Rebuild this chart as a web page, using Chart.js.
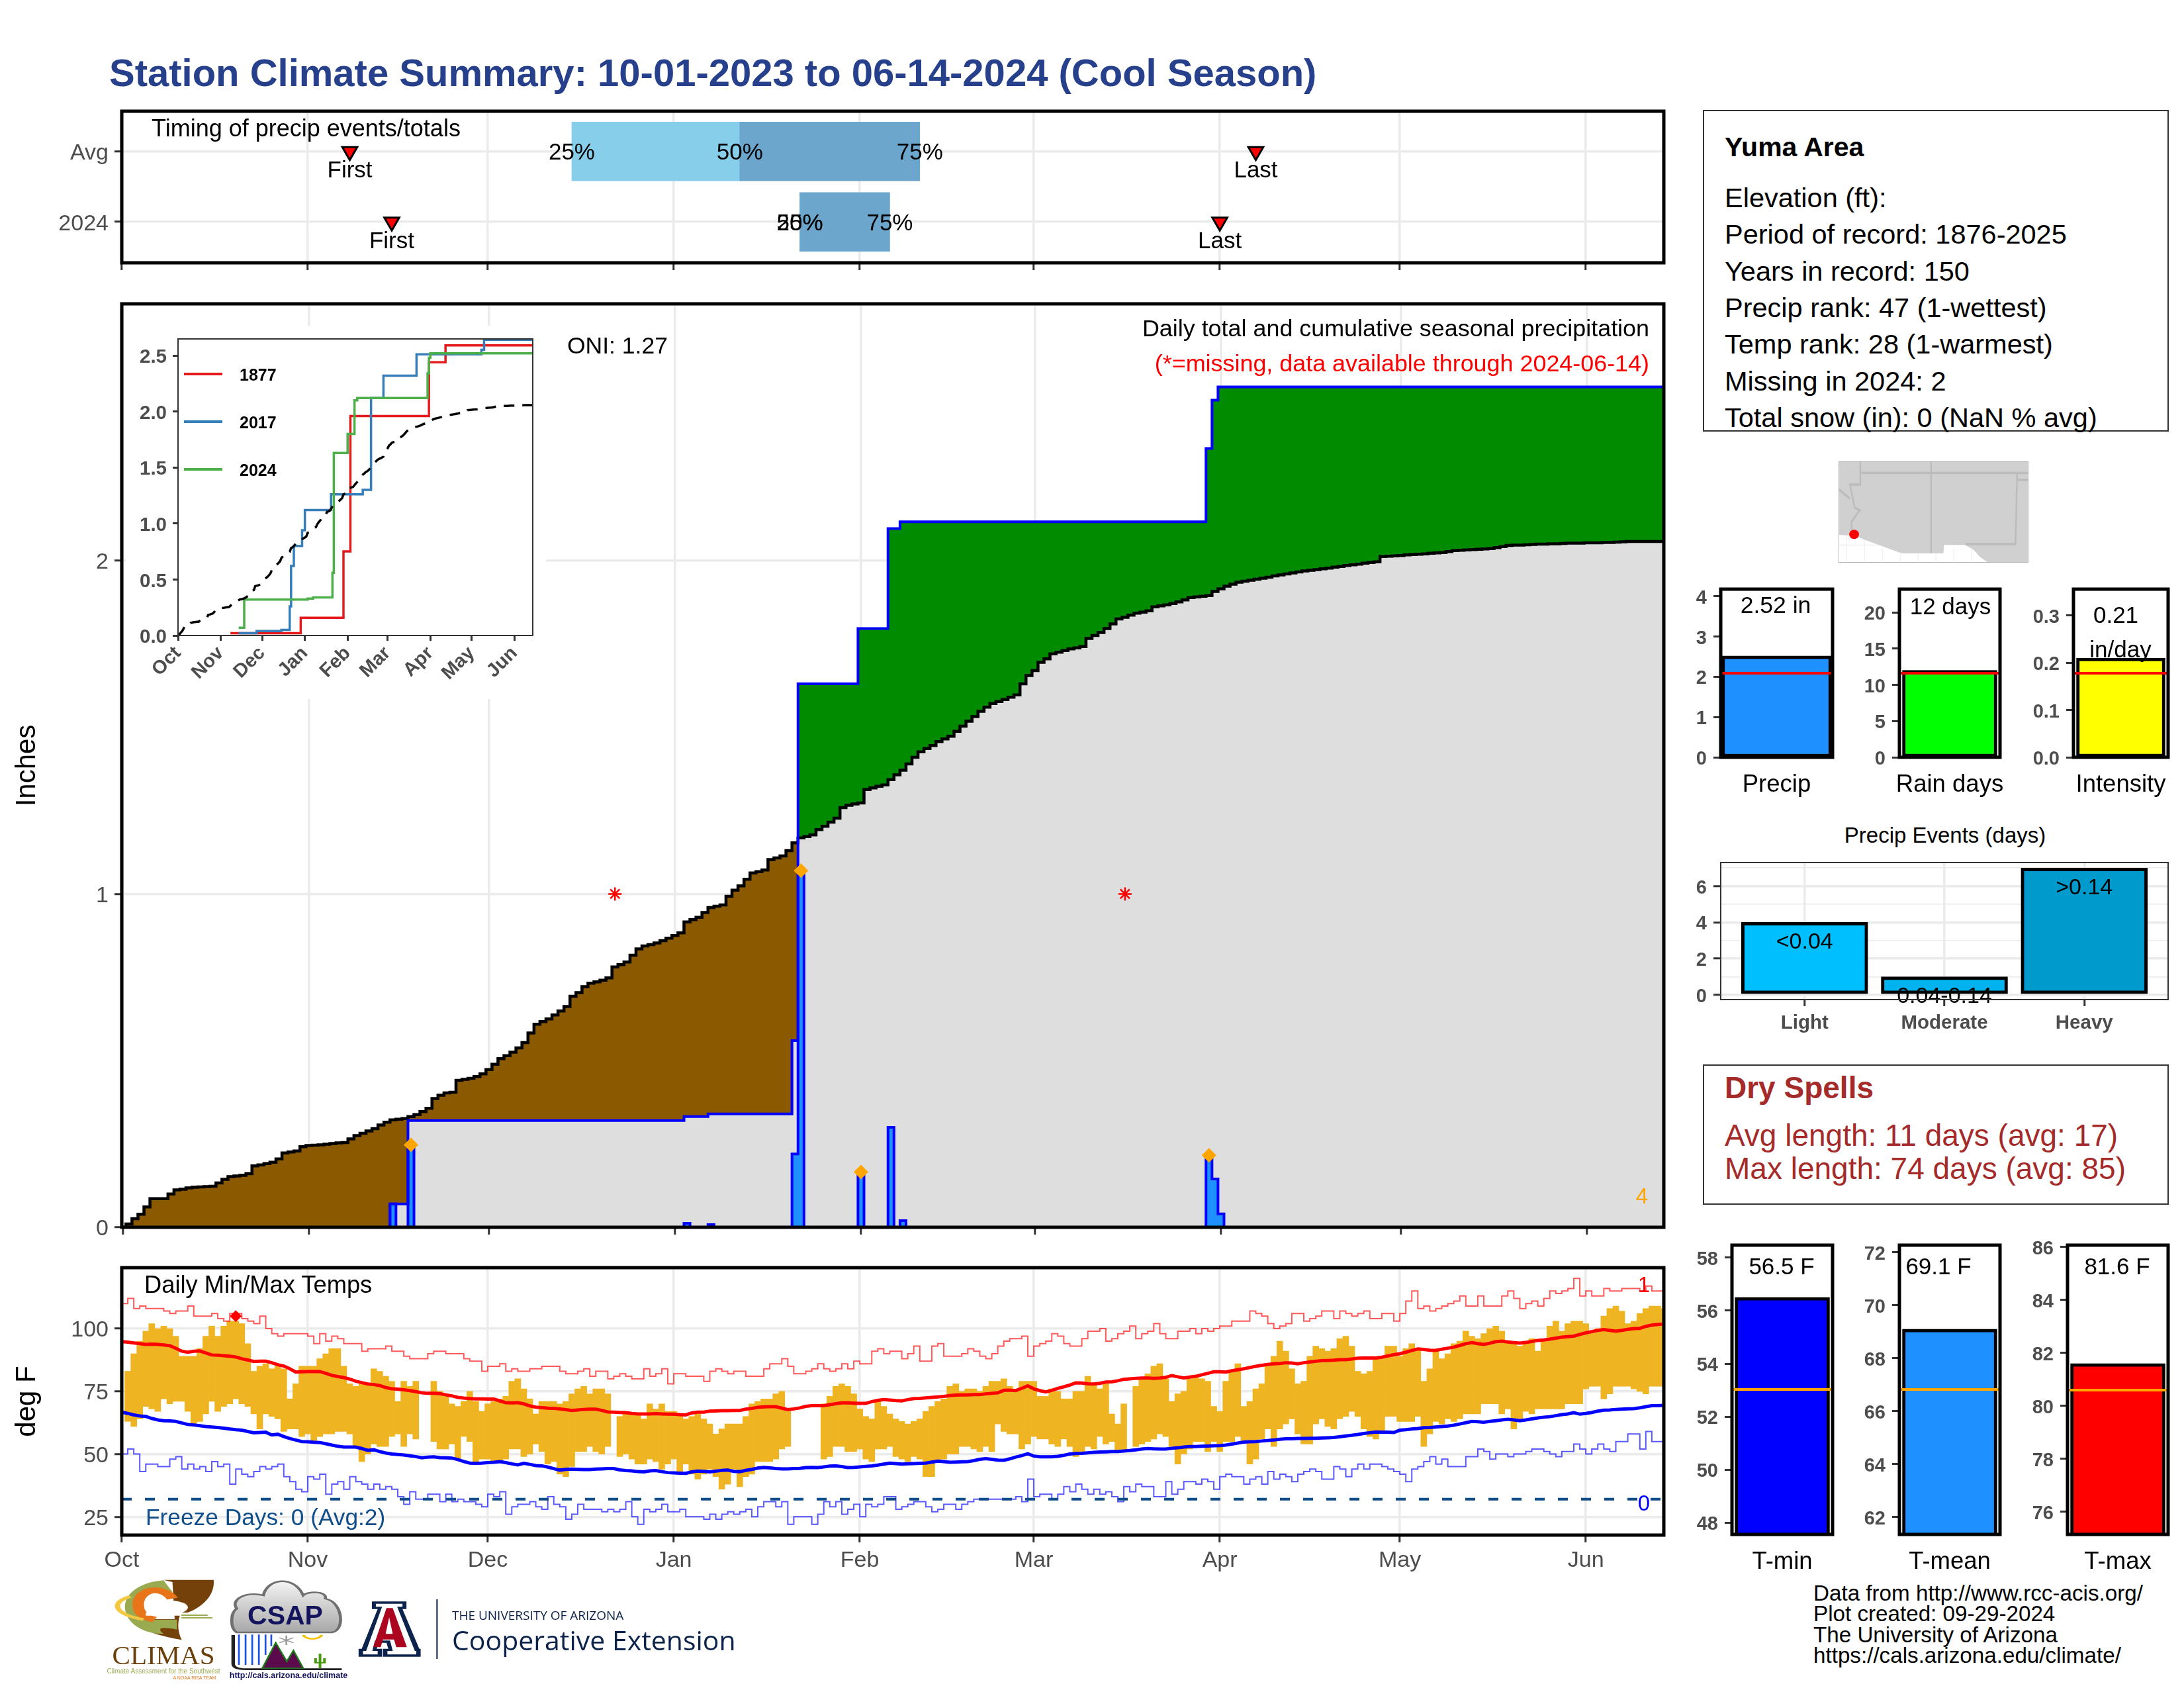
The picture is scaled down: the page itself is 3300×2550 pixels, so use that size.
<!DOCTYPE html>
<html>
<head>
<meta charset="utf-8">
<title>Station Climate Summary</title>
<script src="https://cdn.jsdelivr.net/npm/chart.js@4"></script>
<style>
  body { margin: 0; width: 3300px; height: 2550px; background: #fff; position: relative; overflow: hidden; font-family: "Liberation Sans", sans-serif; }
  canvas { position: absolute; }
  .t { position: absolute; white-space: nowrap; line-height: 1; }
  .box { position: absolute; box-sizing: border-box; border: 2px solid #333; }
  svg { position: absolute; }
</style>
</head>
<body>
<script>
// Month ticks, days since Oct 1
var monthDays = [0, 31, 61, 92, 123, 152, 183, 213, 244];
var monthNames = ['Oct', 'Nov', 'Dec', 'Jan', 'Feb', 'Mar', 'Apr', 'May', 'Jun'];

// Timing strip
var timingRows = [2, 1];
var timingNames = ['Avg', '2024'];
var pct25 = [75, 113];
var pct50 = [103, 113];
var pct75 = [133, 128];
var firstEvent = [38, 45];
var lastEvent = [189, 183];

// Average cumulative precip, day 0 to 257
var avgCum = [0,.01,.026,.039,.061,.086,.086,.086,.1,.112,.114,.118,.12,.121,.122,.123,.133,.144,.152,.154,.156,.161,.184,.187,.191,.195,.205,.223,.226,.229,.242,.245,.246,.247,.249,.251,.253,.254,.265,.275,.282,.289,.296,.307,.315,.322,.324,.326,.332,.338,.347,.357,.386,.396,.403,.405,.441,.444,.447,.452,.46,.473,.489,.506,.515,.525,.538,.554,.583,.609,.617,.625,.637,.649,.662,.693,.704,.722,.732,.736,.741,.748,.781,.788,.796,.816,.835,.844,.848,.853,.86,.867,.875,.883,.916,.923,.93,.944,.959,.963,.967,.993,1.011,1.024,1.044,1.063,1.067,1.072,1.103,1.108,1.114,1.13,1.153,1.168,1.172,1.177,1.193,1.203,1.215,1.227,1.259,1.266,1.27,1.273,1.313,1.318,1.323,1.327,1.343,1.357,1.371,1.39,1.41,1.426,1.436,1.445,1.457,1.465,1.473,1.488,1.503,1.518,1.532,1.548,1.56,1.571,1.577,1.583,1.59,1.597,1.63,1.655,1.67,1.695,1.705,1.72,1.725,1.73,1.735,1.738,1.742,1.766,1.775,1.784,1.796,1.81,1.825,1.83,1.836,1.842,1.845,1.849,1.861,1.864,1.867,1.871,1.876,1.882,1.889,1.891,1.893,1.895,1.907,1.915,1.923,1.929,1.935,1.938,1.941,1.944,1.947,1.95,1.954,1.957,1.96,1.963,1.966,1.969,1.971,1.973,1.975,1.977,1.98,1.982,1.985,1.987,1.989,1.992,1.994,1.996,2.012,2.013,2.014,2.015,2.017,2.018,2.019,2.02,2.022,2.023,2.024,2.027,2.03,2.031,2.032,2.033,2.034,2.035,2.036,2.039,2.042,2.045,2.046,2.046,2.047,2.048,2.049,2.049,2.05,2.05,2.051,2.052,2.052,2.052,2.053,2.053,2.053,2.054,2.054,2.055,2.056,2.057,2.057,2.057,2.057,2.057,2.057,2.057];

// Rain events in 2023-24
var rainDays = [45, 48, 94, 98, 112, 113, 123, 128, 130, 181, 182, 183];
var rainInches = [.07, .25, .012, .008, .22, 1.07, .166, .30, .02, .22, .145, .04];
var flagDays = [48, 113, 123, 181];
var flagInches = [.247, 1.07, .166, .216];
var missingDays = [82, 167];
var missingMarkY = [1, 1];

// Inset: cumulative totals in wettest years (day of change, new total)
var y1877Days = [38, 89, 120, 125, 182, 194, 257];
var y1877Total = [.02, .158, .75, 1.96, 2.44, 2.59, 2.59];
var y2017Days = [44, 57, 75, 81, 82, 84, 90, 92, 111, 134, 140, 149, 173, 220, 222, 257];
var y2017Total = [.02, .04, .05, .26, .62, .80, .94, 1.12, 1.26, 1.30, 2.12, 2.32, 2.51, 2.55, 2.64, 2.64];
var y2024Days = [44, 48, 94, 98, 112, 113, 123, 128, 130, 181, 182, 183, 257];
var y2024Total = [.07, .32, .33, .34, .56, 1.63, 1.80, 2.10, 2.12, 2.34, 2.48, 2.52, 2.52];

// Daily temps (deg F), bars run from day 1 to 257
var tempHigh = [83,90,95,99,102,100,101,100,97,89,89,89,92,97,101,97,101,103,103,102,94,83,85,86,84,85,84,72,78,85,85,85,88,90,92,92,85,78,77,78,78,84,83,81,79,71,79,77,79,null,null,79,75,73,70,69,71,75,71,67,70,71,72,73,79,80,76,72,66,71,71,71,70,71,74,76,77,74,76,76,74,null,65,66,66,66,64,70,68,70,67,67,66,64,65,66,64,62,58,60,62,62,62,65,70,71,72,72,74,75,67,null,null,null,null,null,70,73,77,78,77,74,68,65,64,71,69,66,64,63,62,63,64,67,69,71,72,77,78,75,76,76,75,77,79,79,80,77,75,79,79,79,73,73,76,75,72,72,75,75,81,78,76,78,66,62,70,null,77,80,82,85,86,80,71,74,75,80,81,80,79,69,67,79,83,86,69,71,76,78,85,89,95,91,84,78,79,89,93,92,91,92,96,97,93,83,82,83,88,89,93,93,89,92,94,92,79,84,91,88,90,94,95,99,97,96,98,100,101,99,95,94,93,95,96,91,96,101,103,99,102,103,103,102,99,100,105,108,109,107,102,103,106,108,109,109,108];
var tempLow = [63,61,64,69,68,67,72,70,71,71,67,62,63,66,71,67,69,70,72,70,69,66,60,66,65,64,59,60,60,57,58,55,57,58,58,59,59,58,53,47,50,54,53,53,57,58,53,58,56,null,null,55,52,52,54,48,57,55,47,48,48,47,47,48,52,52,49,50,54,51,46,47,42,41,45,51,51,53,51,50,53,null,49,50,48,46,46,48,47,44,46,48,43,46,42,40,42,44,41,36,38,44,37,41,42,47,47,47,48,52,53,null,null,null,null,null,48,49,53,53,51,51,52,48,47,52,52,53,49,48,47,49,48,41,41,47,48,50,50,53,53,52,51,53,51,62,59,58,58,52,54,57,56,56,54,53,56,53,49,51,53,52,57,54,55,51,51,null,53,54,55,56,58,57,53,46,50,52,55,55,51,55,51,55,55,57,55,46,48,56,60,53,60,62,64,58,54,54,62,64,61,60,64,65,67,65,60,57,56,59,65,65,63,63,63,65,53,58,63,62,64,63,64,66,66,66,70,70,70,66,68,60,64,67,66,68,68,68,68,68,70,70,70,76,77,77,72,74,77,77,77,76,75,74,77,77,77];

// Normals and daily records, day 0 to 257
var avgHigh = [94.8,94.6,94.3,94,93.7,93.8,93.7,93.5,93.2,92.2,91,90.6,91,91.1,90.3,89.5,89.4,89.2,89,88.7,88,87.5,86.9,87,87,86.4,85.6,85.1,84,82.7,82.8,82.9,82.9,82.9,82.2,81.4,80.9,80.5,79.9,79,78.5,77.9,77.7,77.3,76.5,76,75.9,75.6,75.3,74.9,74.4,74.2,74.2,74.1,73.6,73.2,72.6,72.3,72.1,72,72,71.9,71.9,71.2,70.5,70.4,70.5,70,69.2,68.7,68.5,68.3,68.2,68,67.7,67.4,67.6,67.8,67.9,67.9,67.4,66.8,66.7,66.6,66.5,66.2,66,66,66,66.1,66,65.9,65.9,65.7,65.6,66.4,66.7,66.7,67.1,67.2,67.3,67.3,67.4,67.4,67.9,68.2,68.6,68.8,68.9,68.9,68.3,67.7,68,68.4,69,69.3,69.3,69.3,69.7,70.1,70.4,70.4,70.3,70.2,70.2,70.9,71.4,71.7,71.5,71.3,71.2,71.7,72.1,72.2,72.4,72.6,72.8,73,73.3,73.5,73.6,73.6,73.7,73.7,74,74.2,74.4,75.4,75.5,75.3,76.2,77.2,76,75.3,74.8,75.4,76.2,76.8,77.5,78.4,78.3,78,77.9,78.2,78.7,78.8,79.2,79.8,80,80.2,80.3,80.3,80.2,80.3,80.6,81.3,80.8,80.3,80.7,81,81.6,82.2,82.8,82.8,82.7,83.2,83.6,84,84.5,85,85.4,85.7,86,86.1,86.4,86.3,86,86.4,86.7,87,87.2,87.3,87.4,87.6,87.6,87.9,88.2,88.3,88.3,88.3,88.6,89.1,89.6,90,90.6,91.3,91.9,91.7,91.4,91.3,91.8,92.2,92.6,93.3,94,94.4,94,93.7,94.2,94.8,95,94.7,94.4,94.2,94.5,94.9,95.3,95.5,95.8,96.2,96.6,96.8,97,97.7,98.3,98.8,99.3,99.6,99.3,99,99.3,99.7,100,100.1,100.9,101.4,101.7,101.8];
var avgLow = [66.7,66.2,65.6,65.2,65,64.2,63.6,63.3,63.2,63,62.4,61.8,61.6,61.3,61,60.8,60.6,60.3,60,59.7,59.5,59,58.5,58.6,58.7,57.6,57.9,57,56.2,55.6,55,54.9,54.7,54.6,54.1,53.6,53.1,52.8,52.8,52.8,52.2,51.5,51.7,51,50.4,50,49.8,49.6,49.3,49,48.5,48.8,48.9,48.6,48.5,48.4,47.8,47,46.4,46.3,46.4,46.6,46.7,47,46.6,46.1,45.7,46.3,45.9,45.4,45.3,44.8,44.2,43.6,43.9,44,43.9,43.8,43.8,44,44.1,44.2,44.2,43.7,43.4,43.3,43,42.9,43.3,43.4,43,42.6,42.5,42.4,42.3,42.9,43.2,43.1,42.9,43.2,43.5,43.6,43.1,43,43.5,43.9,44.4,44.7,44.5,44.2,44.1,44.1,44.2,44.3,44.6,44.7,44.6,44.9,45.2,45.3,45,44.6,44.7,44.9,45.1,45.3,45.6,46,46.4,46.2,46,46.1,46.2,46.3,46.4,46.8,47.2,47,46.7,46.8,46.9,47,47.4,47.9,48.2,47.9,47.6,47.5,48.1,48.8,49.4,50.1,49.2,48.9,48.9,48.9,49.1,49.5,50,50.2,50.3,50.5,50.7,50.8,50.9,51,51,51.2,51.4,51.7,52,52.2,52.1,52,52,52.3,52.5,52.8,53,53,53.1,53.2,53.3,53.4,53.6,54,54.4,54.8,54.9,55,55.2,55.4,55.6,55.9,56.1,56.1,56.2,56.2,56.3,56.3,56.4,56.5,56.6,56.9,57.2,57.5,57.8,58.2,58.5,58.8,58.7,58.7,58.6,59.5,59.7,60,60.2,60.5,60.6,60.8,61,61.2,61.5,62,62.5,63,62.9,62.7,63,63.3,63.6,63.9,63.6,63.3,63.6,64,64.4,64.7,64.9,65.3,65.7,66,66.5,65.9,66.2,66.6,67.1,67.5,67.6,67.8,67.9,68,68.1,68.4,68.9,69.3,69.3,69.4];
var recHigh = [110,112,108,109,108,108,108,107,106,107,107,109,105,105,105,106,104,103,106,106,104,103,102,105,100,98,97,98,98,98,98,97,94,98,95,97,96,94,94,94,91,92,92,92,93,91,91,89,88,88,88,90,91,91,90,90,90,88,87,87,83,85,85,86,83,84,83,83,84,84,85,85,85,83,82,82,83,84,81,83,83,80,81,82,81,80,80,84,81,82,84,78,82,82,81,81,81,79,83,84,83,82,83,83,81,81,81,84,86,86,88,85,82,82,83,84,86,84,83,84,86,84,87,86,86,91,92,90,91,91,88,90,93,87,87,93,94,89,89,89,90,92,91,89,88,90,93,95,96,96,97,89,93,94,95,98,97,94,93,93,96,99,99,100,95,96,98,99,101,96,98,99,102,98,96,96,99,99,100,98,100,99,100,101,101,103,103,103,107,106,105,102,100,101,102,106,106,103,104,105,107,107,104,107,106,105,106,107,104,104,106,106,103,106,111,115,108,109,107,108,109,110,111,113,109,109,113,109,109,109,113,115,112,108,110,111,109,112,115,114,115,116,120,113,115,113,113,116,115,115,116,116,116,115,117,115,115,115];
var recLow = [50,52,50,43,46,46,45,45,48,49,44,46,44,45,43,47,45,46,38,44,42,41,43,45,44,45,46,41,39,36,35,41,40,42,34,38,39,36,41,39,38,36,38,36,37,36,33,30,35,32,32,34,34,31,34,31,32,31,31,30,29,34,33,35,26,29,30,30,31,29,28,33,30,29,24,26,30,28,28,28,27,28,27,28,31,25,22,28,27,28,30,27,27,28,25,25,25,24,26,24,26,27,26,27,28,25,29,31,31,29,31,22,25,25,25,22,26,31,29,31,26,28,30,25,30,29,30,33,33,28,29,30,31,31,29,27,28,30,30,28,30,31,32,32,32,32,32,32,32,33,31,40,33,34,34,32,34,37,35,38,36,34,36,34,35,33,31,37,35,38,37,37,33,33,39,34,36,39,39,38,40,39,36,41,42,41,41,38,40,41,38,43,40,42,41,39,42,43,44,43,40,40,45,44,41,44,46,44,46,46,45,44,43,42,39,44,45,47,49,46,48,45,45,45,49,49,52,51,48,50,50,49,50,50,51,52,52,51,50,49,51,51,54,52,50,52,54,52,51,55,55,58,58,52,59,55,55,55];
var freezeLine = 32;
var recordHighDay = [19];
var recordHighMark = [105];

// Summary bars
var precipTotal = 2.52, precipNormal = 2.09;
var rainDayCount = 12, rainDayNormal = 11.6;
var intensity = 0.21, intensityNormal = 0.178;
var eventSlots = [1, 2, 3];
var eventNames = ['Light', 'Moderate', 'Heavy'];
var eventCounts = [4, 1, 7];
var eventTags = ['<0.04', '0.04-0.14', '>0.14'];
var eventTagY = [3, 0, 6];
var tMin = 56.5, tMinNormal = 53.03;
var tMean = 69.1, tMeanNormal = 66.82;
var tMax = 81.6, tMaxNormal = 80.6;

var GRID = '#ebebeb', AXIS = '#4d4d4d', TICK = '#333333';
Chart.defaults.font.family = '"Liberation Sans"';

function toPoints(values, startDay) {
    return values.map(function(v, i) { return { x: i + startDay, y: v }; });
}
function zipPoints(xs, ys) {
    return xs.map(function(x, i) { return { x: x, y: ys[i] }; });
}

function label(text, x, y, opts) {
    opts = opts || {};
    var el = document.createElement('div');
    el.className = 't';
    el.textContent = text;
    el.style.left = x + 'px';
    el.style.top = y + 'px';
    el.style.fontSize = (opts.size || 35) + 'px';
    el.style.color = opts.color || '#000';
    el.style.fontFamily = opts.family || '"Liberation Sans"';
    if (opts.bold) el.style.fontWeight = 'bold';
    var tx = opts.anchor === 'center' ? '-50%' : opts.anchor === 'right' ? '-100%' : '0';
    el.style.transform = 'translate(' + tx + ',-50%)';
    document.body.appendChild(el);
}

function panelFrame(width, color) {
    return {
        id: 'panelFrame',
        afterDraw: function(chart) {
            var a = chart.chartArea, c = chart.ctx;
            c.save();
            c.strokeStyle = color;
            c.lineWidth = width;
            c.strokeRect(a.left, a.top, a.right - a.left, a.bottom - a.top);
            c.restore();
        }
    };
}

// text anchored to data values, drawn on top of the chart
function dataText(items, font, color) {
    return {
        id: 'dataText',
        afterDraw: function(chart) {
            var c = chart.ctx;
            c.save();
            c.font = font;
            c.fillStyle = color;
            c.textAlign = 'center';
            c.textBaseline = 'middle';
            items.forEach(function(t) {
                c.fillText(t.text, chart.scales.x.getPixelForValue(t.x), chart.scales.y.getPixelForValue(t.y) + 3 + (t.dy || 0));
            });
            c.restore();
        }
    };
}

function noAxisPadding(s) {
    s.paddingTop = 0;
    s.paddingBottom = 0;
    s.paddingLeft = 0;
    s.paddingRight = 0;
}

// places a chart so its plot area lands exactly on the given page rectangle
function panelChart(area, gutter, config) {
    var pad = 6;
    var canvas = document.createElement('canvas');
    var w = area.right - area.left + gutter.left + pad;
    var h = area.bottom - area.top + gutter.bottom + pad;
    canvas.width = w;
    canvas.height = h;
    canvas.style.width = w + 'px';
    canvas.style.height = h + 'px';
    canvas.style.left = (area.left - gutter.left) + 'px';
    canvas.style.top = (area.top - pad) + 'px';
    document.body.appendChild(canvas);
    var o = config.options;
    o.responsive = false;
    o.animation = false;
    o.devicePixelRatio = 1;
    o.layout = { autoPadding: false, padding: { top: pad, right: pad, left: 0, bottom: 0 } };
    o.plugins = o.plugins || {};
    o.plugins.legend = { display: false };
    o.plugins.tooltip = { enabled: false };
    o.scales.x.afterFit = function(s) { s.height = gutter.bottom; noAxisPadding(s); };
    o.scales.y.afterFit = function(s) { s.width = gutter.left; noAxisPadding(s); };
    return new Chart(canvas, config);
}

function monthAxis(min, max, withLabels) {
    return {
        type: 'linear', min: min, max: max, offset: false,
        afterBuildTicks: function(a) { a.ticks = monthDays.map(function(v) { return { value: v }; }); },
        grid: { offset: false, color: GRID, lineWidth: 3.5, tickColor: TICK, tickWidth: 3, tickLength: 11 },
        border: { display: false },
        ticks: {
            autoSkip: false, maxRotation: 0, minRotation: 0, padding: 7, color: AXIS, font: { size: 34 },
            callback: function(v) { return withLabels ? monthNames[monthDays.indexOf(v)] : ''; }
        }
    };
}

function valueAxis(min, max, tickValues, names) {
    return {
        type: 'linear', min: min, max: max, offset: false,
        afterBuildTicks: function(a) { a.ticks = tickValues.map(function(v) { return { value: v }; }); },
        grid: { offset: false, color: GRID, lineWidth: 3.5, tickColor: TICK, tickWidth: 3, tickLength: 11 },
        border: { display: false },
        ticks: {
            autoSkip: false, padding: 9, labelOffset: 3, color: AXIS, font: { size: 34 },
            callback: function(v) { return names ? names[tickValues.indexOf(v)] : v; }
        }
    };
}

// ---------- title ----------
label('Station Climate Summary: 10-01-2023 to 06-14-2024 (Cool Season)', 165, 110, { size: 58, bold: true, color: '#27408b' });

// ---------- timing strip ----------
var timingText = [];
timingRows.forEach(function(r, i) {
    timingText.push({ text: '25%', x: pct25[i], y: r });
    timingText.push({ text: '50%', x: pct50[i], y: r });
    timingText.push({ text: '75%', x: pct75[i], y: r });
    timingText.push({ text: 'First', x: firstEvent[i], y: r, dy: 27 });
    timingText.push({ text: 'Last', x: lastEvent[i], y: r, dy: 27 });
});
panelChart({ left: 184, top: 168, right: 2514, bottom: 397 }, { left: 184, bottom: 20 }, {
    type: 'bar',
    data: {
        datasets: [
            { indexAxis: 'y', grouped: false, barThickness: 89, backgroundColor: '#87ceeb', order: 3,
              data: timingRows.map(function(r, i) { return { y: r, x: [pct25[i], pct50[i]] }; }) },
            { indexAxis: 'y', grouped: false, barThickness: 89, backgroundColor: '#6ca6cd', order: 2,
              data: timingRows.map(function(r, i) { return { y: r, x: [pct50[i], pct75[i]] }; }) },
            { type: 'scatter', order: 1, pointStyle: 'triangle', rotation: 180, pointRadius: 13,
              backgroundColor: '#ff0000', borderColor: '#000', borderWidth: 3,
              data: zipPoints(firstEvent.concat(lastEvent), timingRows.concat(timingRows)) }
        ]
    },
    options: {
        scales: { x: monthAxis(0, 257, false), y: valueAxis(0.42, 2.57, timingRows, timingNames) }
    },
    plugins: [dataText(timingText, '35px "Liberation Sans"', '#000'), panelFrame(5, '#000')]
});
label('Timing of precip events/totals', 229, 194, { size: 36 });

// ---------- main precip panel ----------
var dailyPrecip = avgCum.map(function() { return 0; });
var obsCum = [];
var running = 0;
avgCum.forEach(function(_, d) {
    var k = rainDays.indexOf(d);
    if (k >= 0) { dailyPrecip[d] = rainInches[k]; running += rainInches[k]; }
    obsCum.push(running);
});

var mainY = valueAxis(0, 2.77, [0, 1, 2]);
mainY.title = { display: true, text: 'Inches', color: '#000', font: { size: 42 }, padding: { top: 16, bottom: 0 } };

panelChart({ left: 184, top: 459, right: 2514, bottom: 1854 }, { left: 184, bottom: 20 }, {
    type: 'line',
    data: {
        datasets: [
            { label: 'normal area', order: 9, data: toPoints(avgCum, 0), stepped: 'middle', borderWidth: 0, pointRadius: 0,
              fill: 'origin', backgroundColor: '#dedede' },
            { label: 'departure', order: 8, data: toPoints(obsCum, 0), stepped: 'middle', borderWidth: 0, pointRadius: 0,
              fill: { target: 0, above: '#008b00', below: '#8b5a00' } },
            { label: 'average', order: 7, data: toPoints(avgCum, 0), stepped: 'middle', borderColor: '#000', borderWidth: 4.5, pointRadius: 0, fill: false },
            { label: 'daily', order: 6, data: toPoints(dailyPrecip, 0), stepped: 'middle', borderColor: '#0000ff', borderWidth: 4, pointRadius: 0,
              fill: 'origin', backgroundColor: '#1e90ff' },
            { label: 'cumulative', order: 5, data: toPoints(obsCum, 0), stepped: 'middle', borderColor: '#0000ff', borderWidth: 4, pointRadius: 0, fill: false },
            { label: 'flags', order: 2, type: 'scatter', data: zipPoints(flagDays, flagInches), pointStyle: 'rectRot', pointRadius: 11,
              backgroundColor: '#ffa500', borderWidth: 0 },
            { label: 'missing', order: 1, type: 'scatter', data: zipPoints(missingDays, missingMarkY), pointStyle: 'star', pointRadius: 10,
              borderColor: '#ff0000', backgroundColor: '#ff0000', borderWidth: 2.5 }
        ]
    },
    options: { scales: { x: monthAxis(-0.2, 256.8, false), y: mainY } },
    plugins: [panelFrame(5, '#000')]
});
label('ONI: 1.27', 857, 523, { size: 35.5 });
label('Daily total and cumulative seasonal precipitation', 2492, 497, { size: 35.9, anchor: 'right' });
label('(*=missing, data available through 2024-06-14)', 2492, 550, { size: 35.9, anchor: 'right', color: '#ff0000' });
label('4', 2481, 1806, { size: 33, anchor: 'center', color: '#ffa500' });

// ---------- inset ----------
var insetBack = document.createElement('div');
insetBack.style.cssText = 'position:absolute;left:190px;top:492px;width:635px;height:564px;background:#fff';
document.body.appendChild(insetBack);

var insetX = monthAxis(0, 257.3, true);
insetX.ticks.maxRotation = 45;
insetX.ticks.minRotation = 45;
insetX.ticks.padding = 2;
insetX.ticks.font = { size: 29, weight: 'bold' };
insetX.grid = { drawOnChartArea: false, tickColor: TICK, tickWidth: 3, tickLength: 8 };
var insetY = valueAxis(0, 2.648, [0, 0.5, 1, 1.5, 2, 2.5]);
insetY.grid = { drawOnChartArea: false, tickColor: TICK, tickWidth: 3, tickLength: 8 };
insetY.ticks.font = { size: 29.5, weight: 'bold' };
insetY.ticks.padding = 9;
insetY.ticks.callback = function(v) { return v.toFixed(1); };

function insetLine(xs, ys, color, order) {
    return { data: zipPoints(xs, ys), stepped: 'before', borderColor: color, borderWidth: 3.5, pointRadius: 0, fill: false, order: order };
}
panelChart({ left: 269, top: 512, right: 805, bottom: 960 }, { left: 79, bottom: 90 }, {
    type: 'line',
    data: {
        datasets: [
            insetLine(y1877Days, y1877Total, '#e41a1c', 4),
            insetLine(y2017Days, y2017Total, '#377eb8', 3),
            insetLine(y2024Days, y2024Total, '#4daf4a', 2),
            { data: toPoints(avgCum, 0), borderColor: '#000', borderWidth: 3.5, borderDash: [16, 12], pointRadius: 0, fill: false, order: 1 }
        ]
    },
    options: { scales: { x: insetX, y: insetY } },
    plugins: [panelFrame(2, '#333')]
});
[['1877', '#e41a1c', 565], ['2017', '#377eb8', 637], ['2024', '#4daf4a', 709]].forEach(function(k) {
    var swatch = document.createElement('div');
    swatch.style.cssText = 'position:absolute;left:278px;width:58px;height:4px;top:' + (k[2] - 2) + 'px;background:' + k[1];
    document.body.appendChild(swatch);
    label(k[0], 362, k[2] + 1, { size: 25, bold: true });
});

// ---------- daily temperatures ----------
var tempBars = [];
tempHigh.forEach(function(hi, i) {
    if (hi !== null) tempBars.push({ x: i + 1, y: [tempLow[i], hi] });
});
var tempY = valueAxis(17.7, 124.3, [25, 50, 75, 100]);
tempY.title = { display: true, text: 'deg F', color: '#000', font: { size: 42 }, padding: { top: 16, bottom: 0 } };

panelChart({ left: 184, top: 1915, right: 2514, bottom: 2319 }, { left: 184, bottom: 60 }, {
    type: 'bar',
    data: {
        datasets: [
            { label: 'range', order: 9, data: tempBars, backgroundColor: '#eeb422', barThickness: 9, grouped: false },
            { label: 'record high', order: 8, type: 'line', data: toPoints(recHigh, 0), stepped: 'before', borderColor: 'rgba(255,0,0,0.65)', borderWidth: 2, pointRadius: 0 },
            { label: 'record low', order: 7, type: 'line', data: toPoints(recLow, 0), stepped: 'before', borderColor: 'rgba(0,0,255,0.65)', borderWidth: 2, pointRadius: 0 },
            { label: 'normal high', order: 6, type: 'line', data: toPoints(avgHigh, 0), borderColor: '#ff0000', borderWidth: 5, pointRadius: 0 },
            { label: 'normal low', order: 5, type: 'line', data: toPoints(avgLow, 0), borderColor: '#0000ff', borderWidth: 5, pointRadius: 0 },
            { label: 'freezing', order: 4, type: 'line', data: [{ x: 0, y: freezeLine }, { x: 257, y: freezeLine }], borderColor: '#104e8b', borderWidth: 4, borderDash: [15, 20], pointRadius: 0 },
            { label: 'record set', order: 3, type: 'scatter', data: zipPoints(recordHighDay, recordHighMark), pointStyle: 'rectRot', pointRadius: 9, backgroundColor: '#ff0000', borderWidth: 0 }
        ]
    },
    options: { scales: { x: monthAxis(0, 257, true), y: tempY } },
    plugins: [panelFrame(5, '#000')]
});
label('Daily Min/Max Temps', 218, 1941, { size: 36.3 });
label('Freeze Days: 0 (Avg:2)', 220, 2292, { size: 35.3, color: '#104e8b' });
label('1', 2484, 1940, { size: 33, anchor: 'center', color: '#ff0000' });
label('0', 2484, 2270, { size: 33, anchor: 'center', color: '#0000ff' });

// ---------- station box ----------
var stationBox = document.createElement('div');
stationBox.className = 'box';
stationBox.style.cssText = 'left:2573px;top:166px;width:704px;height:486px';
document.body.appendChild(stationBox);
label('Yuma Area', 2606, 222, { size: 41, bold: true });
['Elevation (ft):', 'Period of record: 1876-2025', 'Years in record: 150', 'Precip rank: 47 (1-wettest)',
 'Temp rank: 28 (1-warmest)', 'Missing in 2024: 2', 'Total snow (in): 0 (NaN % avg)'].forEach(function(s, i) {
    label(s, 2606, 299 + i * 55.3, { size: 41.5 });
});

// ---------- single bar summaries ----------
function statBar(area, yMin, yMax, yTicks, digits, value, normal, normalColor, fill, barWidth, name) {
    var y = valueAxis(yMin, yMax, yTicks);
    y.grid = { drawOnChartArea: false, tickColor: TICK, tickWidth: 3, tickLength: 11 };
    y.ticks.font = { size: 29, weight: 'bold' };
    y.ticks.padding = 10;
    y.ticks.callback = function(v) { return v.toFixed(digits); };
    var x = { type: 'linear', min: 0, max: 1, offset: false,
        afterBuildTicks: function(a) { a.ticks = [{ value: 0.5 }]; },
        grid: { display: false, offset: false }, border: { display: false },
        ticks: { color: '#000', font: { size: 36.5 }, padding: 12, callback: function() { return name; } } };
    panelChart(area, { left: 80, bottom: 62 }, {
        type: 'bar',
        data: {
            datasets: [
                { order: 2, data: [{ x: 0.5, y: value }], backgroundColor: fill, borderColor: '#000', borderWidth: 5, borderSkipped: false, barThickness: barWidth },
                { order: 1, type: 'line', data: [{ x: 0, y: normal }, { x: 1, y: normal }], borderColor: normalColor, borderWidth: 4, pointRadius: 0 }
            ]
        },
        options: { scales: { x: x, y: y } },
        plugins: [panelFrame(5, '#000')]
    });
}

statBar({ left: 2600, top: 890, right: 2769, bottom: 1144 }, 0, 4.18, [0, 1, 2, 3, 4], 0, precipTotal, precipNormal, '#ff0000', '#1e90ff', 166, 'Precip');
statBar({ left: 2870, top: 890, right: 3022, bottom: 1144 }, 0, 23.2, [0, 5, 10, 15, 20], 0, rainDayCount, rainDayNormal, '#ff0000', '#00ff00', 143, 'Rain days');
statBar({ left: 3133, top: 890, right: 3276, bottom: 1144 }, 0, 0.356, [0, 0.1, 0.2, 0.3], 1, intensity, intensityNormal, '#ff0000', '#ffff00', 134, 'Intensity');
label('2.52 in', 2683, 915, { size: 35.5, anchor: 'center' });
label('12 days', 2947, 915, { size: 35, anchor: 'center' });
label('0.21', 3197, 928, { size: 35, anchor: 'center' });
label('in/day', 3204, 980, { size: 35, anchor: 'center' });

statBar({ left: 2617, top: 1881, right: 2769, bottom: 2318 }, 47.56, 58.47, [48, 50, 52, 54, 56, 58], 0, tMin, tMinNormal, '#ffa500', '#0000ff', 143, 'T-min');
statBar({ left: 2870, top: 1881, right: 3022, bottom: 2318 }, 61.35, 72.27, [62, 64, 66, 68, 70, 72], 0, tMean, tMeanNormal, '#ffa500', '#1e90ff', 143, 'T-mean');
statBar({ left: 3124, top: 1881, right: 3276, bottom: 2318 }, 75.15, 86.07, [76, 78, 80, 82, 84, 86], 0, tMax, tMaxNormal, '#ffa500', '#ff0000', 143, 'T-max');
label('56.5 F', 2692, 1912, { size: 35, anchor: 'center' });
label('69.1 F', 2929, 1912, { size: 35, anchor: 'center' });
label('81.6 F', 3199, 1912, { size: 35, anchor: 'center' });

// ---------- precip events ----------
var eventsX = valueAxis(0.4, 3.6, eventSlots, eventNames);
eventsX.grid = { offset: false, color: GRID, lineWidth: 3.5, tickColor: TICK, tickWidth: 3, tickLength: 10 };
eventsX.ticks.font = { size: 29.5, weight: 'bold' };
eventsX.ticks.padding = 8;
eventsX.ticks.labelOffset = 0;
var eventsY = valueAxis(-0.26, 7.3, [0, 1, 2, 3, 4, 5, 6, 7]);
eventsY.grid = {
    offset: false, color: GRID, tickWidth: 3, tickLength: 11,
    lineWidth: function(c) { return c.tick && c.tick.value % 2 ? 1.5 : 3.5; },
    tickColor: function(c) { return c.tick && c.tick.value % 2 ? 'rgba(0,0,0,0)' : TICK; }
};
eventsY.ticks.font = { size: 29, weight: 'bold' };
eventsY.ticks.padding = 10;
eventsY.ticks.callback = function(v) { return v % 2 ? '' : v; };
panelChart({ left: 2600, top: 1303, right: 3276, bottom: 1510 }, { left: 80, bottom: 60 }, {
    type: 'bar',
    data: {
        datasets: [{
            data: zipPoints(eventSlots, eventCounts),
            backgroundColor: ['#00bfff', '#00b2ee', '#009acd'],
            borderColor: '#000', borderWidth: 5, borderSkipped: false, barThickness: 191
        }]
    },
    options: { scales: { x: eventsX, y: eventsY } },
    plugins: [dataText(eventTags.map(function(s, i) { return { text: s, x: eventSlots[i], y: eventTagY[i] }; }), '34px "Liberation Sans"', '#000'), panelFrame(2, '#333')]
});
label('Precip Events (days)', 2939, 1261, { size: 33, anchor: 'center' });

// ---------- dry spells ----------
var dryBox = document.createElement('div');
dryBox.className = 'box';
dryBox.style.cssText = 'left:2573px;top:1608px;width:704px;height:212px';
document.body.appendChild(dryBox);
label('Dry Spells', 2606, 1643, { size: 46, bold: true, color: '#a52a2a' });
label('Avg length: 11 days (avg: 17)', 2606, 1715, { size: 46, color: '#a52a2a' });
label('Max length: 74 days (avg: 85)', 2606, 1765, { size: 46, color: '#a52a2a' });

// ---------- footer ----------
['Data from http://www.rcc-acis.org/', 'Plot created: 09-29-2024', 'The University of Arizona', 'https://cals.arizona.edu/climate/'].forEach(function(s, i) {
    label(s, 2740, 2407 + i * 31.3, { size: 33.2 });
});

// ---------- locator map and logos (plain pictures, no data) ----------
document.body.insertAdjacentHTML('beforeend',
    '<svg style="left:2778px;top:697px" width="287" height="153" viewBox="505 780 585 218" preserveAspectRatio="none">' +
    '<rect x="505" y="780" width="585" height="218" fill="#fff" stroke="#999" stroke-width="1.5"/>' +
    '<path d="M530 940V998M585 945V998M640 965V998M695 980V998M750 980V998M805 980V998M860 965V998M915 965V998M505 960H700" stroke="#ececec" stroke-width="2" fill="none"/>' +
    '<path d="M505 780H1090V998H965L940 985 920 970 895 960H830L828 978H700L590 950 555 940 505 938Z" fill="#d0d0d0"/>' +
    '<path d="M572 780V830H540L555 880 570 885 545 910V930L555 940M505 840L540 860M572 805H1090M790 780V978M1055 805L1050 958H895M1055 820H1090" stroke="#bcbcbc" stroke-width="5" fill="none"/>' +
    '<ellipse cx="553" cy="937" rx="15" ry="10" fill="#ff0000"/>' +
    '<rect x="505" y="780" width="585" height="218" fill="none" stroke="#999" stroke-width="1.5"/></svg>');

document.body.insertAdjacentHTML('beforeend',
    '<svg style="left:130px;top:2340px" width="1050" height="210" viewBox="0 0 1568 630" preserveAspectRatio="none">' +
    '<defs><linearGradient id="cl" x1="0" y1="0" x2="0" y2="1"><stop offset="0" stop-color="#f4f4f4"/><stop offset="1" stop-color="#a8a8a8"/></linearGradient></defs>' +
    // climas mark
    '<path d="M175 140H288C292 225 250 280 212 300 205 340 208 380 216 412 170 395 125 370 110 335L130 318H200L195 150Z" fill="#75410a"/>' +
    '<path d="M175 142C120 150 85 205 88 270 90 330 125 385 175 385 160 360 165 350 205 365L205 320 130 320C100 240 140 170 195 195Z" fill="#9aaa50"/>' +
    '<path d="M195 225C175 170 125 175 118 240 115 290 130 310 155 320" stroke="#e8751a" stroke-width="26" fill="none"/>' +
    '<path d="M100 215C55 240 60 295 130 320" stroke="#f5c842" stroke-width="12" fill="none"/>' +
    '<ellipse cx="185" cy="265" rx="45" ry="32" fill="#fff"/><path d="M135 295H235" stroke="#fff" stroke-width="14"/>' +
    '<path d="M215 300H275M215 312H285" stroke="#9aaa50" stroke-width="6"/>' +
    // csap mark
    '<path d="M340 378H555C585 370 580 240 540 225 545 190 500 190 490 210 470 120 410 130 400 210 360 190 325 230 340 270 325 290 325 360 340 378Z" fill="url(#cl)" stroke="#707070" stroke-width="7"/>' +
    '<path d="M345 388V525M360 388V525M375 388V525M390 388V525M405 388V480M418 388V440" stroke="#1c50e0" stroke-width="4"/>' +
    '<path d="M332 390V520Q332 545 360 545H577" stroke="#222" stroke-width="8" fill="none"/>' +
    '<path d="M398 540L428 425 453 510 468 460 490 540Z" fill="#5c0a4c" stroke="#1a7a1a" stroke-width="4"/>' +
    '<path d="M452 392V435M436 402L468 425M468 402L436 425" stroke="#999" stroke-width="4"/>' +
    '<path d="M490 390A22 25 0 0 0 532 390" stroke="#f5c200" stroke-width="7" fill="none"/>' +
    '<path d="M528 475V540M518 495V515H538V495" stroke="#4a9a10" stroke-width="6" fill="none"/>' +
    // block A
    '<path d="M645 238H723V272H714L752 452H755V488H670V452H682L678 425H660L656 452H668V488H615V452H622L658 272H645Z" fill="#0c234b"/>' +
    '<path d="M654 248H714V262H702L742 462H745V478H680V462H692L686 415H652L646 462H658V478H625V462H632L668 262H654Z" fill="#fff"/>' +
    '<path d="M678 268H692L724 445H700L695 410H670L665 445H648ZM676 385H692L684 310Z" fill="#ab0520" fill-rule="evenodd"/>' +
    '<path d="M792 228V498" stroke="#0c234b" stroke-width="3"/>' +
    '</svg>');
label('CLIMAS', 247, 2500, { size: 41, family: '"Liberation Serif"', color: '#6b3f0a', anchor: 'center' });
label('Climate Assessment for the Southwest', 247, 2525, { size: 10, color: '#9aaa50', anchor: 'center' });
label('A NOAA RISA TEAM', 294, 2534, { size: 7, color: '#e8751a', anchor: 'center' });
label('CSAP', 431, 2440, { size: 41, bold: true, color: '#14145e', anchor: 'center' });
label('http://cals.arizona.edu/climate', 436, 2531, { size: 12.5, bold: true, color: '#14145e', anchor: 'center' });
label('THE UNIVERSITY OF ARIZONA', 683, 2440, { size: 19, family: '"Open Sans"', color: '#0c234b' });
label('Cooperative Extension', 683, 2477, { size: 41, family: '"Open Sans"', color: '#0c234b' });
</script>
</body>
</html>
